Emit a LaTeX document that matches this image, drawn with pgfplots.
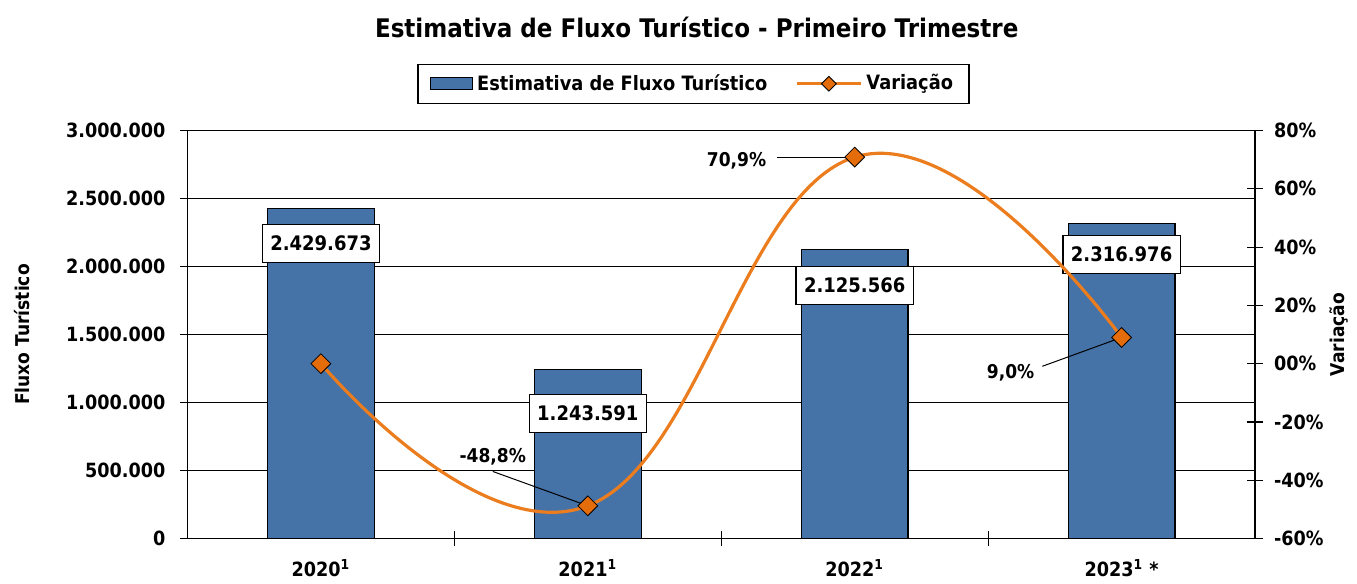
\documentclass[border=0pt]{standalone}
\usepackage{fontspec}
\setmainfont{DejaVu Sans}[FakeStretch=0.9]
\usepackage{pgfplots}
\usepackage{pgfplotstable}
\pgfplotsset{compat=1.18}

\definecolor{barblue}{RGB}{69,114,167}
\definecolor{lineorange}{RGB}{235,125,30}
\definecolor{markorange}{RGB}{228,108,10}

\pgfplotsset{
  barleg/.style={legend image code/.code={\draw[##1] (0pt,-3pt) rectangle (21pt,3pt);}},
  lineleg/.style={legend image code/.code={\draw[##1, mark repeat=2, mark phase=2]
    plot coordinates {(0pt,0pt) (16pt,0pt) (32pt,0pt)};}},
}

% fluxo turistico (barras) + deslocamento do rotulo abaixo do topo (pt)
\pgfplotstableread{
x  fluxo    lbl        dy
0  2429673  2.429.673  17.7
1  1243591  1.243.591  22
2  2125566  2.125.566  18
3  2316976  2.316.976  15.5
}\fluxo

% variacao (%)
\pgfplotstableread{
x  var
0  0.0
1  -48.8
2  70.9
3  9.0
}\variacao

\begin{document}
\begin{tikzpicture}[font=\bfseries]
\pgfplotsset{
  base/.style={
    scale only axis, width=534pt, height=204pt,
    xmin=-0.5, xmax=3.5,
    every tick label/.append style={font=\bfseries\fontsize{9.8}{11}\selectfont},
    /pgf/number format/assume math mode=true,
    axis line style={black, line width=0.6pt},
    every tick/.style={black, line width=0.6pt},
  }
}
\begin{axis}[
  base,
  ymin=0, ymax=3000000,
  axis x line*=bottom, axis y line*=left,
  clip=false,
  xtick={0,1,2,3},
  xticklabels={2020\textsuperscript{1}, 2021\textsuperscript{1}, 2022\textsuperscript{1}, 2023\textsuperscript{1} *},
  major x tick style={draw=none},
  minor xtick={0.5,1.5,2.5},
  minor tick length=7.5pt,
  minor x tick style={yshift=3.5pt},
  xticklabel style={yshift=-3.5pt},
  ytick={0,500000,...,3000000},
  scaled y ticks=false,
  yticklabel style={xshift=-4pt, /pgf/number format/.cd, fixed, precision=0, 1000 sep={.}},
  tick align=outside,
  major tick length=3.5pt,
  ymajorgrids, grid style={black, line width=0.6pt},
  ylabel={Fluxo Turístico},
  every axis y label/.style={at={(rel axis cs:-0.1545,0.5)}, rotate=90, anchor=center,
    font=\bfseries\fontsize{9.5}{11}\selectfont},
  legend columns=2,
  legend style={at={(rel axis cs:0.474,1.115)}, anchor=center, draw=black,
    line width=0.6pt, font=\bfseries\fontsize{9.9}{11}\selectfont,
    inner xsep=6pt, inner ysep=3pt,
    /tikz/every even column/.append style={column sep=12pt}},
]
\addplot[ybar, bar width=0.4, fill=barblue, draw=black, line width=0.6pt,
  point meta=explicit symbolic,
  nodes near coords={\pgfplotspointmeta},
  visualization depends on={\thisrow{dy} \as \dy},
  every node near coord/.style={draw=black, fill=white, line width=0.6pt,
    anchor=center, yshift={-\dy*1pt}, inner xsep=4pt, minimum height=19pt,
    font=\bfseries\fontsize{10}{12}\selectfont, text=black},
  barleg,
] table[x=x, y=fluxo, meta=lbl]{\fluxo};
\addlegendentry{Estimativa de Fluxo Turístico}
\addlegendimage{draw=lineorange, line width=1.6pt, mark=square*,
  mark options={rotate=45, fill=markorange, draw=black, line width=0.4pt},
  mark size=2.6pt, lineleg}
\addlegendentry{Variação}
% titulo e area da figura
\node[font=\bfseries\fontsize{12.8}{15}\selectfont] at (rel axis cs:0.477,1.252)
  {Estimativa de Fluxo Turístico - Primeiro Trimestre};
\path (rel axis cs:-0.1756,-0.1029) rectangle (rel axis cs:1.0955,1.3203);
\end{axis}

\begin{axis}[
  base,
  ymin=-60, ymax=80,
  axis x line=none, axis y line*=right,
  ytick={-60,-40,...,80},
  yticklabels={-60\%,-40\%,-20\%,00\%,20\%,40\%,60\%,80\%},
  tick align=center, major tick length=8pt,
  yticklabel style={xshift=2pt},
  ylabel={Variação},
  every axis y label/.style={at={(rel axis cs:1.079,0.5)}, rotate=90, anchor=center,
    font=\bfseries\fontsize{9.5}{11}\selectfont},
  clip=false,
]
\addplot[smooth, tension=0.75, draw=lineorange, line width=1.6pt, mark=square*,
  mark options={rotate=45, fill=markorange, draw=black, line width=0.4pt},
  mark size=3.5pt] table[x=x, y=var]{\variacao};
% rotulos da variacao
\draw[black, line width=0.5pt] (axis cs:0.644,-37) -- (axis cs:1,-48.8);
\node[font=\bfseries\fontsize{9.5}{11}\selectfont] at (axis cs:0.644,-31.9) {-48,8\%};
\draw[black, line width=0.5pt] (axis cs:1.71,70.9) -- (axis cs:2,70.9);
\node[anchor=east, font=\bfseries\fontsize{9.5}{11}\selectfont] at (axis cs:1.695,69.5) {70,9\%};
\draw[black, line width=0.5pt] (axis cs:2.703,-0.9) -- (axis cs:3,9.0);
\node[font=\bfseries\fontsize{9.5}{11}\selectfont] at (axis cs:2.584,-3.0) {9,0\%};
\end{axis}
\end{tikzpicture}
\end{document}
